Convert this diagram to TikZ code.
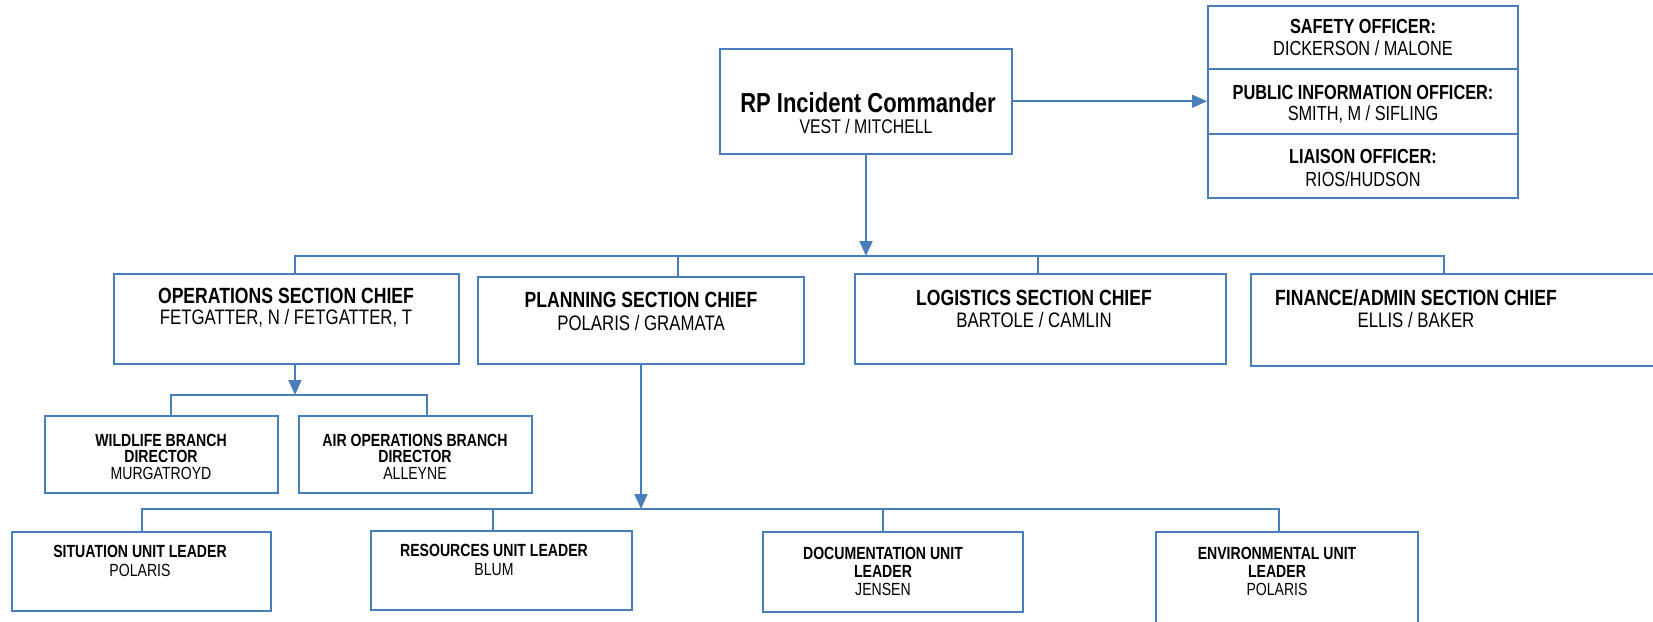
\documentclass[tikz,border=0pt]{standalone}
\usepackage{fontspec}
\setmainfont{Liberation Sans}[FakeStretch=0.8]
\usetikzlibrary{arrows.meta,fit}
\definecolor{lb}{RGB}{74,126,187}
\begin{document}
\begin{tikzpicture}[x=0.5pt,y=-0.5pt,
 box/.style={draw=lb,line width=1pt,inner sep=0pt},
 ln/.style={draw=lb,line width=1pt},
 arr/.style={ln,-{Triangle[width=6.5pt,length=7.5pt]}},
 tx/.style={inner sep=0pt,text=black},
 ict/.style={tx,font=\fontsize{13.75}{15}\selectfont\bfseries},
 icn/.style={tx,font=\fontsize{9.9}{11}\selectfont},
 st/.style={tx,font=\fontsize{11}{12}\selectfont\bfseries},
 sn/.style={tx,font=\fontsize{10.5}{12}\selectfont},
 ot/.style={tx,font=\fontsize{10.2}{11}\selectfont\bfseries},
 on/.style={tx,font=\fontsize{10.2}{11}\selectfont},
 smt/.style={tx,font=\fontsize{8.8}{9}\selectfont\bfseries},
 smn/.style={tx,font=\fontsize{8.8}{9}\selectfont}]
\useasboundingbox (0,0) rectangle (1653,621);
\clip (0,0) rectangle (1653,621);
% boxes
\node[box,fit={(720,48.5)(1012,154)}] (ic) {};
\node[box,fit={(1208,6)(1518,68.5)}] (saf) {};
\node[box,fit={(1208,68.5)(1518,134)}] (pio) {};
\node[box,fit={(1208,134)(1518,198)}] (lia) {};
\node[box,fit={(114,274)(459,364)}] (ops) {};
\node[box,fit={(477.5,277)(804,364)}] (pln) {};
\node[box,fit={(855,274)(1226,364)}] (log) {};
\node[box,fit={(1251,274)(1670,366)}] (fin) {};
\node[box,fit={(45,416)(278,493)}] (wil) {};
\node[box,fit={(299,416)(532,493)}] (air) {};
\node[box,fit={(12,532)(271,611)}] (sit) {};
\node[box,fit={(371,531)(632,610)}] (res) {};
\node[box,fit={(763,532)(1023,612)}] (doc) {};
\node[box,fit={(1156,532)(1418,645)}] (env) {};
% texts
\node[ict] (ic1) at (868,103) {RP Incident Commander};
\node[icn] (ic2) at (866,126.5) {VEST / MITCHELL};
\node[ot] (saf1) at (1363,26) {SAFETY OFFICER:};
\node[on] (saf2) at (1363,48.5) {DICKERSON / MALONE};
\node[ot] (pio1) at (1363,92) {PUBLIC INFORMATION OFFICER:};
\node[on] (pio2) at (1363,114) {SMITH, M / SIFLING};
\node[ot] (lia1) at (1363,156) {LIAISON OFFICER:};
\node[on] (lia2) at (1363,179) {RIOS/HUDSON};
\node[st] (ops1) at (286,296) {OPERATIONS SECTION CHIEF};
\node[sn] (ops2) at (286,318) {FETGATTER, N / FETGATTER, T};
\node[st] (pln1) at (641,300) {PLANNING SECTION CHIEF};
\node[sn] (pln2) at (641,322.5) {POLARIS / GRAMATA};
\node[st] (log1) at (1034,298) {LOGISTICS SECTION CHIEF};
\node[sn] (log2) at (1034,320) {BARTOLE / CAMLIN};
\node[st] (fin1) at (1416,298) {FINANCE/ADMIN SECTION CHIEF};
\node[sn] (fin2) at (1416,320) {ELLIS / BAKER};
\node[smt] (wil1) at (161,440) {WILDLIFE BRANCH};
\node[smt] (wil2) at (161,456.5) {DIRECTOR};
\node[smn] (wil3) at (161,473) {MURGATROYD};
\node[smt] (air1) at (415,440) {AIR OPERATIONS BRANCH};
\node[smt] (air2) at (415,456.5) {DIRECTOR};
\node[smn] (air3) at (415,473) {ALLEYNE};
\node[smt] (sit1) at (140,551) {SITUATION UNIT LEADER};
\node[smn] (sit2) at (140,570) {POLARIS};
\node[smt] (res1) at (494,550) {RESOURCES UNIT LEADER};
\node[smn] (res2) at (494,570) {BLUM};
\node[smt] (doc1) at (883,553) {DOCUMENTATION UNIT};
\node[smt] (doc2) at (883,571) {LEADER};
\node[smn] (doc3) at (883,589) {JENSEN};
\node[smt] (env1) at (1277,553) {ENVIRONMENTAL UNIT};
\node[smt] (env2) at (1277,571) {LEADER};
\node[smn] (env3) at (1277,589) {POLARIS};
% connectors
\draw[arr] (ic.east) -- (pio.west);
\coordinate (tb) at (866,256);
\coordinate (tbL) at (295,256);
\coordinate (tbR) at (1444,256);
\coordinate (tb2) at (678,256);
\coordinate (tb3) at (1038,256);
\draw[arr] (ic.south) -- (tb);
\draw[ln] (tbL |- ops.north) -- (tbL) -- (tbR) -- (tbR |- fin.north);
\draw[ln] (tb2) -- (tb2 |- pln.north);
\draw[ln] (tb3) -- (tb3 |- log.north);
\coordinate (ob) at (295,395);
\coordinate (obL) at (171,395);
\coordinate (obR) at (427,395);
\draw[arr] (ob |- ops.south) -- (ob);
\draw[ln] (obL |- wil.north) -- (obL) -- (obR) -- (obR |- air.north);
\coordinate (pb) at (641,509);
\coordinate (pbL) at (142,509);
\coordinate (pbR) at (1279,509);
\coordinate (pb2) at (493,509);
\coordinate (pb3) at (883,509);
\draw[arr] (pb |- pln.south) -- (pb);
\draw[ln] (pbL |- sit.north) -- (pbL) -- (pbR) -- (pbR |- env.north);
\draw[ln] (pb2) -- (pb2 |- res.north);
\draw[ln] (pb3) -- (pb3 |- doc.north);
\end{tikzpicture}
\end{document}
